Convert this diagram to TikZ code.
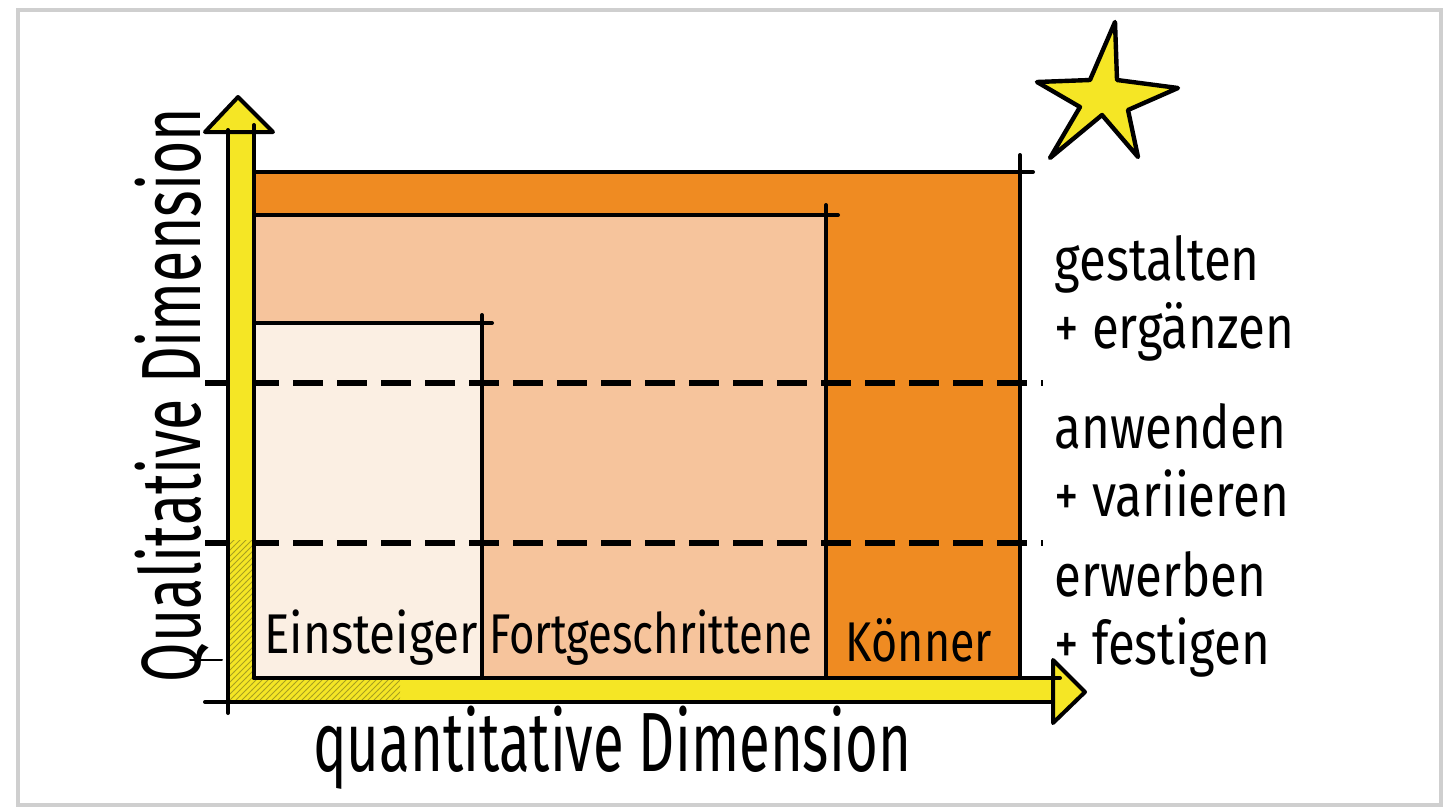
\documentclass[tikz,border=0pt]{standalone}
\usepackage{fontspec}
\setmainfont{Fira Sans}
\usetikzlibrary{patterns}
\definecolor{axisyellow}{HTML}{F5E625}
\definecolor{lvlA}{HTML}{FBEFE3}
\definecolor{lvlB}{HTML}{F6C49C}
\definecolor{lvlC}{HTML}{EF8B22}
\definecolor{framegray}{HTML}{CFCFCF}
\definecolor{hatchcol}{HTML}{A8A020}
\tikzset{
  ink/.style={draw=black, line width=2pt, line cap=round, line join=round},
  hand/.style={font=\fontsize{28}{34}\selectfont, inner sep=0pt},
  sidelabel/.style={font=\fontsize{30}{34}\selectfont, align=left, anchor=west, inner sep=0pt},
  levelline/.style={draw=black, line width=2.6pt, dash pattern=on 15pt off 7pt},
}
\begin{document}
\begin{tikzpicture}[x=0.5pt,y=-0.5pt]
\useasboundingbox (0,0) rectangle (1445,810);
\fill[white] (0,0) rectangle (1445,810);
\draw[framegray, line width=2pt] (18,10) rectangle (1441,805);

% level areas
\fill[lvlC] (254,172) rectangle (1020,678);
\fill[lvlB] (254,215) rectangle (826,678);
\fill[lvlA] (254,323) rectangle (482,678);

% level outlines (sketchy overshoot)
\draw[ink] (254,172) -- (1033,172);
\draw[ink] (1020,155) -- (1020,690);
\draw[ink] (240,215) -- (838,215);
\draw[ink] (826,205) -- (826,690);
\draw[ink] (254,323) -- (492,323);
\draw[ink] (482,315) -- (482,690);

% dashed level separators
\draw[levelline] (205,383) -- (1043,383);
\draw[levelline] (205,543) -- (1043,543);

% axes (arrows)
\fill[axisyellow] (228,702) -- (228,132) -- (205,132) -- (238,97) -- (273,132) -- (254,132) -- (254,678) -- (1053,678) -- (1053,660) -- (1085,692) -- (1053,723) -- (1053,702) -- cycle;
\fill[pattern=north east lines, pattern color=hatchcol] (228,540) -- (254,540) -- (254,678) -- (400,678) -- (400,702) -- (228,702) -- cycle;
\draw[ink] (205,132) -- (238,97) -- (273,132) -- cycle;
\draw[ink] (228,130) -- (228,713);
\draw[ink] (254,125) -- (254,678);
\draw[ink] (254,678) -- (1060,678);
\draw[ink] (205,702) -- (1053,702);
\draw[ink] (1053,660) -- (1085,692) -- (1053,723) -- cycle;
\draw[ink, line width=1pt] (190,660) -- (222,660);

% star
\filldraw[fill=axisyellow, draw=black, line width=2.2pt, line join=round]
  (1115,22) -- (1117,80) -- (1178,88) -- (1128,110) -- (1138,157) -- (1102,115)
  -- (1050,158) -- (1080,107) -- (1037,82) -- (1090,80) -- cycle;

% texts
\node[hand] (einst) at (371,638) {\scalebox{0.85}[1]{Einsteiger}};
\node[hand] (fortg) at (651,638) {\scalebox{0.78}[1]{Fortgeschrittene}};
\node[hand] (koenn) at (919,640) {\scalebox{0.8}[1]{Könner}};
\node[sidelabel] (gest) at (1054,298) {\scalebox{0.82}[1]{gestalten}\\\scalebox{0.82}[1]{+ ergänzen}};
\node[sidelabel] (anw) at (1054,460) {\scalebox{0.82}[1]{anwenden}\\\scalebox{0.82}[1]{+ variieren}};
\node[sidelabel] (erw) at (1054,614) {\scalebox{0.82}[1]{erwerben}\\\scalebox{0.82}[1]{+ festigen}};
\node[font=\fontsize{42}{48}\selectfont, inner sep=0pt] (qx) at (612,748) {\scalebox{0.67}[1]{quantitative Dimension}};
\node[font=\fontsize{42}{48}\selectfont, inner sep=0pt, rotate=90] (qy) at (172,395) {\scalebox{0.68}[1]{Qualitative Dimension}};
\end{tikzpicture}
\end{document}
